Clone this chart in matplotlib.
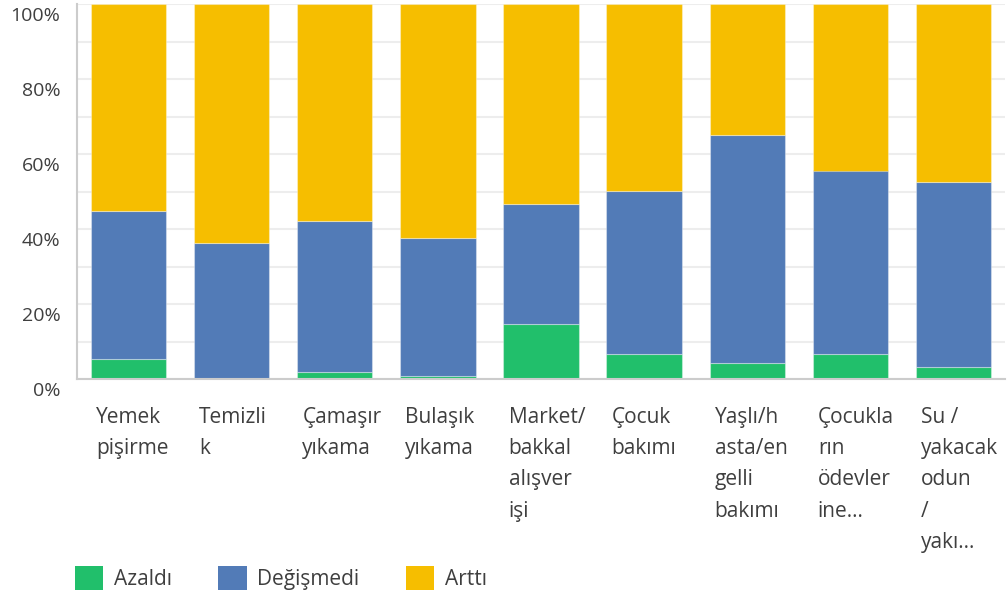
import matplotlib
matplotlib.use("Agg")
import matplotlib.pyplot as plt
from matplotlib.patches import Patch
from matplotlib.transforms import ScaledTranslation, blended_transform_factory
import numpy as np

categories = ["Yemek\npişirme", "Temizli\nk", "Çamaşır\nyıkama", "Bulaşık\nyıkama",
              "Market/\nbakkal\nalışver\nişi", "Çocuk\nbakımı",
              "Yaşlı/h\nasta/en\ngelli\nbakımı", "Çocukla\nrın\nödevler\nine...",
              "Su /\nyakacak\nodun\n/\nyakı..."]
azaldi    = [5.3, 0.0, 1.8, 0.7, 14.8, 6.8, 4.2, 6.8, 3.2]
degismedi = [39.4, 36.2, 40.4, 37.0, 31.9, 43.4, 61.0, 48.8, 49.4]
artti     = [55.3, 63.8, 57.8, 62.3, 53.3, 49.8, 34.8, 44.4, 47.4]
series_names = ["Azaldı", "Değişmedi", "Arttı"]
ytick_vals = [0, 20, 40, 60, 80, 100]

colors = ["#21BF6B", "#527BB7", "#F6BE00"]
text_color = "#3f3f3f"
plt.rcParams['font.family'] = ['Open Sans', 'DejaVu Sans']

fig = plt.figure(figsize=(10.08, 6.03), dpi=100)
ax = fig.add_axes([77/1008, 1-379/603, 928/1008, 375/603])

x = np.arange(len(categories))
width = 0.73
bottom = np.zeros(len(categories))
for vals, c, name in zip([azaldi, degismedi, artti], colors, series_names):
    v = np.array(vals) / 100.0
    ax.bar(x, v, width, bottom=bottom, color=c, label=name, edgecolor=(1, 1, 1, 0.35),
           linewidth=0.8, zorder=3)
    bottom += v

ax.set_xlim(-0.5, len(categories) - 0.5)
ax.set_ylim(0, 1)
ax.set_yticks(np.arange(0, 1.01, 0.1), minor=True)
ax.set_yticks([v/100 for v in ytick_vals])
ax.set_yticklabels([f"{v}%" for v in ytick_vals], fontsize=14, color=text_color)
ax.tick_params(axis='y', which='both', length=0, pad=12)
ax.tick_params(axis='x', length=0)
ax.set_xticks([])
for lbl in ax.get_yticklabels():
    lbl.set_transform(lbl.get_transform() + ScaledTranslation(0, -10/100, fig.dpi_scale_trans))
ax.grid(axis='y', which='both', color='#ededed', linewidth=1.5, zorder=0)
for s in ['top', 'right']:
    ax.spines[s].set_visible(False)
ax.spines['left'].set_color('#cccccc')
ax.spines['left'].set_linewidth(1.5)
ax.spines['bottom'].set_color('#cccccc')
ax.spines['bottom'].set_linewidth(1.5)
ax.spines['bottom'].set_zorder(4)

trans = blended_transform_factory(ax.transData, ax.transAxes)
for i, cat in enumerate(categories):
    ax.text(i - width/2 + 0.05, 0, cat,
            transform=trans + ScaledTranslation(0, -28/100, fig.dpi_scale_trans),
            ha='left', va='top', fontsize=15, color=text_color, linespacing=1.64)

handles = [Patch(facecolor=c, edgecolor='none') for c in colors]
fig.legend(handles, series_names, loc='center left', bbox_to_anchor=(75/1008, 1-578/603),
           ncol=3, frameon=False, fontsize=15, handlelength=1.35, handleheight=1.35,
           handletextpad=0.5, columnspacing=2.25, borderpad=0, borderaxespad=0,
           labelcolor=text_color)

fig.savefig("out.png", dpi=100)
